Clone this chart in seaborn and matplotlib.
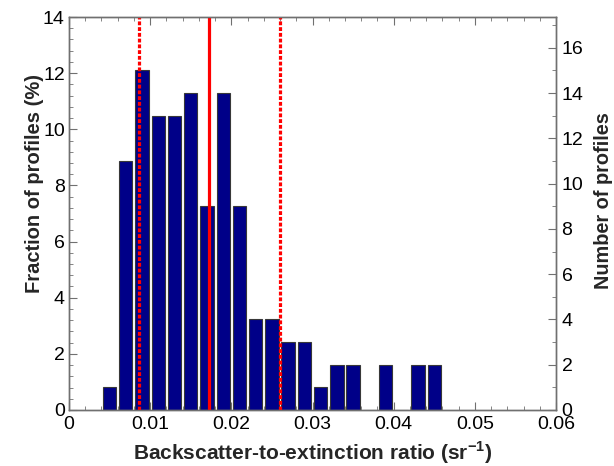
import numpy as np
import pandas as pd
import matplotlib
matplotlib.use("Agg")
import matplotlib.pyplot as plt
from matplotlib.ticker import MultipleLocator
import seaborn as sns

# Histogram of lidar ratio (backscatter-to-extinction) per profile
bin_centers = [0.005, 0.007, 0.009, 0.011, 0.013, 0.015, 0.017, 0.019, 0.021,
               0.023, 0.025, 0.027, 0.029, 0.031, 0.033, 0.035, 0.037, 0.039,
               0.041, 0.043, 0.045]
counts = [1, 11, 15, 13, 13, 14, 9, 14, 9, 4, 4, 3, 3, 1, 2, 2, 0, 2, 0, 2, 2]
mean_ratio = 0.0173
std_ratio = 0.0087

x_ticks = [0, 0.01, 0.02, 0.03, 0.04, 0.05, 0.06]
x_tick_labels = ["0", "0.01", "0.02", "0.03", "0.04", "0.05", "0.06"]

total = sum(counts)
df = pd.DataFrame({"ratio": bin_centers, "count": counts})
df["percent"] = df["count"] / total * 100.0

sns.set_style("white")
plt.rcParams["font.family"] = ["Liberation Sans", "DejaVu Sans"]
plt.rcParams["mathtext.fontset"] = "custom"
plt.rcParams["mathtext.rm"] = "Liberation Sans:bold"
plt.rcParams["mathtext.bf"] = "Liberation Sans:bold"

fig = plt.figure(figsize=(6.14, 4.66), dpi=100)
ax = fig.add_axes([69 / 614, 56 / 466, 487 / 614, 393 / 466])

sns.barplot(data=df, x="ratio", y="percent", native_scale=True, width=0.82,
            color="#000088", saturation=1, edgecolor="#383838", linewidth=0.8,
            errorbar=None, ax=ax)

ax.axvline(mean_ratio, color="#ff0000", lw=2.3, zorder=5)
for xv in (mean_ratio - std_ratio, mean_ratio + std_ratio):
    ax.axvline(xv, color="#ff0000", lw=2.3, ls=(0, (1.2, 0.6)), zorder=5)

tick_color = "#707070"
ax.set_xlim(0, 0.06)
ax.set_ylim(0, 14)
ax.set_xticks(x_ticks)
ax.set_xticklabels(x_tick_labels)
ax.xaxis.set_minor_locator(MultipleLocator(0.002))
ax.yaxis.set_major_locator(MultipleLocator(2))
ax.yaxis.set_minor_locator(MultipleLocator(0.4))
ax.tick_params(axis="both", which="both", direction="in", top=True,
               bottom=True, left=True,
               labelsize=14, colors=tick_color, labelcolor="black")
ax.tick_params(axis="both", which="major", length=6)
ax.tick_params(axis="both", which="minor", length=3)
ax.tick_params(axis="x", pad=4)
ax.tick_params(axis="y", pad=3)
ax.set_xlabel("Backscatter-to-extinction ratio (sr$^{-1}$)",
              fontsize=15, fontweight="bold", va="center", ha="center")
ax.xaxis.set_label_coords(0.5, -0.108)
ax.set_ylabel("Fraction of profiles (%)", fontsize=14.5, fontweight="bold",
              va="center", ha="center")
ax.yaxis.set_label_coords(-0.07, 0.576)
for s in ax.spines.values():
    s.set_color(tick_color)
    s.set_linewidth(1.0)

ax2 = ax.twinx()
ax2.set_ylim(0, 14 * total / 100.0)
ax2.yaxis.set_major_locator(MultipleLocator(2))
ax2.yaxis.set_minor_locator(MultipleLocator(1))
ax2.tick_params(axis="y", which="both", direction="in", right=True,
                labelsize=14, colors=tick_color, labelcolor="black", pad=4)
ax2.tick_params(axis="y", which="major", length=6)
ax2.tick_params(axis="y", which="minor", length=3)
ax2.set_ylabel("Number of profiles", fontsize=14.3, fontweight="bold",
               va="center", ha="center")
ax2.yaxis.set_label_coords(1.098, 0.532)
for s in ax2.spines.values():
    s.set_color(tick_color)
    s.set_linewidth(1.0)

fig.savefig("out.png", dpi=100)
